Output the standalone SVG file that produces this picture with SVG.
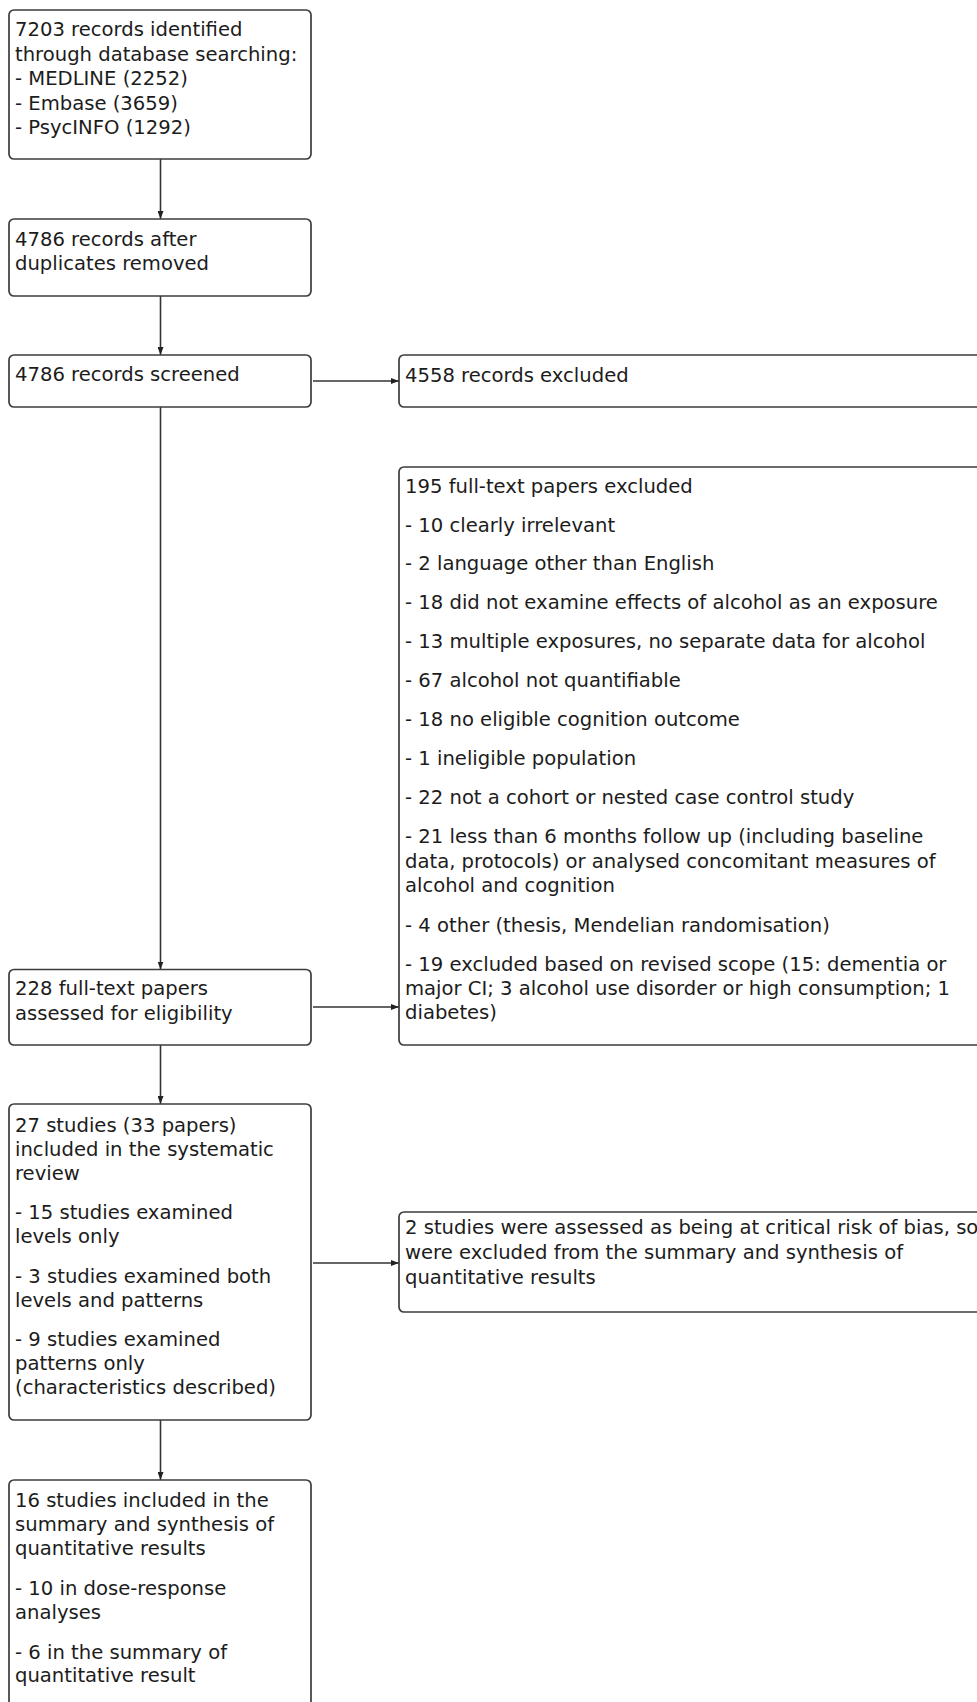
<svg xmlns="http://www.w3.org/2000/svg" width="977" height="1702" viewBox="0 0 977 1702">
<style>
.box{fill:#fff;stroke:#3c3c3c;stroke-width:1.7}
.lt{font-family:"DejaVu Sans","Liberation Sans",sans-serif;font-size:19.6px;fill:#1c1c1c}
.rt{font-family:"DejaVu Sans","Liberation Sans",sans-serif;font-size:19.6px;fill:#1c1c1c}
.conn{stroke:#333;stroke-width:1.6;fill:none;marker-end:url(#ah)}
</style>
<defs>
<marker id="ah" markerUnits="userSpaceOnUse" markerWidth="8" markerHeight="6" refX="8" refY="3" orient="auto">
<path d="M0,0 L8,3 L0,6 z" fill="#222"/>
</marker>
</defs>
<rect width="977" height="1702" fill="#fff"/>
<g id="connectors">
<line class="conn" x1="160.5" y1="159" x2="160.5" y2="219"/>
<line class="conn" x1="160.5" y1="296" x2="160.5" y2="355"/>
<line class="conn" x1="160.5" y1="407" x2="160.5" y2="969.5"/>
<line class="conn" x1="160.5" y1="1045" x2="160.5" y2="1104"/>
<line class="conn" x1="160.5" y1="1420" x2="160.5" y2="1480"/>
<line class="conn" x1="313" y1="381" x2="399" y2="381"/>
<line class="conn" x1="313" y1="1007" x2="399" y2="1007"/>
<line class="conn" x1="313" y1="1263" x2="399" y2="1263"/>
</g>
<g id="identified">
<rect class="box" x="9" y="10" width="302" height="149" rx="5"/>
<text class="lt"><tspan x="15" y="35.5">7203 records identified</tspan><tspan x="15" y="60.5">through database searching:</tspan><tspan x="15" y="85">- MEDLINE (2252)</tspan><tspan x="15" y="109.5">- Embase (3659)</tspan><tspan x="15" y="134">- PsycINFO (1292)</tspan></text>
</g>
<g id="dedup">
<rect class="box" x="9" y="219" width="302" height="77" rx="5"/>
<text class="lt"><tspan x="15" y="245.5">4786 records after</tspan><tspan x="15" y="269.5">duplicates removed</tspan></text>
</g>
<g id="screened">
<rect class="box" x="9" y="355" width="302" height="52" rx="5"/>
<text class="lt" x="15" y="381">4786 records screened</text>
</g>
<g id="excluded">
<rect class="box" x="399" y="355" width="640" height="52" rx="5"/>
<text class="rt" x="405" y="381.5">4558 records excluded</text>
</g>
<g id="fulltext-excluded">
<rect class="box" x="399" y="467" width="640" height="578" rx="5"/>
<text class="rt"><tspan x="405" y="492.7">195 full-text papers excluded</tspan><tspan x="405" y="531.7">- 10 clearly irrelevant</tspan><tspan x="405" y="570">- 2 language other than English</tspan><tspan x="405" y="609.3">- 18 did not examine effects of alcohol as an exposure</tspan><tspan x="405" y="648.3">- 13 multiple exposures, no separate data for alcohol</tspan><tspan x="405" y="687.3">- 67 alcohol not quantifiable</tspan><tspan x="405" y="726">- 18 no eligible cognition outcome</tspan><tspan x="405" y="765">- 1 ineligible population</tspan><tspan x="405" y="804">- 22 not a cohort or nested case control study</tspan><tspan x="405" y="843.3">- 21 less than 6 months follow up (including baseline</tspan><tspan x="405" y="867.7">data, protocols) or analysed concomitant measures of</tspan><tspan x="405" y="892.3">alcohol and cognition</tspan><tspan x="405" y="931.7">- 4 other (thesis, Mendelian randomisation)</tspan><tspan x="405" y="970.7">- 19 excluded based on revised scope (15: dementia or</tspan><tspan x="405" y="995">major CI; 3 alcohol use disorder or high consumption; 1</tspan><tspan x="405" y="1019.3">diabetes)</tspan></text>
</g>
<g id="assessed">
<rect class="box" x="9" y="969.5" width="302" height="75.5" rx="5"/>
<text class="lt"><tspan x="15" y="995">228 full-text papers</tspan><tspan x="15" y="1019.5">assessed for eligibility</tspan></text>
</g>
<g id="included">
<rect class="box" x="9" y="1104" width="302" height="316" rx="5"/>
<text class="lt"><tspan x="15" y="1131.5">27 studies (33 papers)</tspan><tspan x="15" y="1155.5">included in the systematic</tspan><tspan x="15" y="1179.5">review</tspan><tspan x="15" y="1218.5">- 15 studies examined</tspan><tspan x="15" y="1243">levels only</tspan><tspan x="15" y="1282.5">- 3 studies examined both</tspan><tspan x="15" y="1306.5">levels and patterns</tspan><tspan x="15" y="1346">- 9 studies examined</tspan><tspan x="15" y="1370">patterns only</tspan><tspan x="15" y="1394">(characteristics described)</tspan></text>
</g>
<g id="bias-excluded">
<rect class="box" x="399" y="1212" width="640" height="100" rx="5"/>
<text class="rt"><tspan x="405" y="1234">2 studies were assessed as being at critical risk of bias, so</tspan><tspan x="405" y="1259">were excluded from the summary and synthesis of</tspan><tspan x="405" y="1284">quantitative results</tspan></text>
</g>
<g id="synthesis">
<rect class="box" x="9" y="1480" width="302" height="260" rx="5"/>
<text class="lt"><tspan x="15" y="1507">16 studies included in the</tspan><tspan x="15" y="1531">summary and synthesis of</tspan><tspan x="15" y="1555">quantitative results</tspan><tspan x="15" y="1595">- 10 in dose-response</tspan><tspan x="15" y="1618.5">analyses</tspan><tspan x="15" y="1658.5">- 6 in the summary of</tspan><tspan x="15" y="1682">quantitative result</tspan></text>
</g>
</svg>
